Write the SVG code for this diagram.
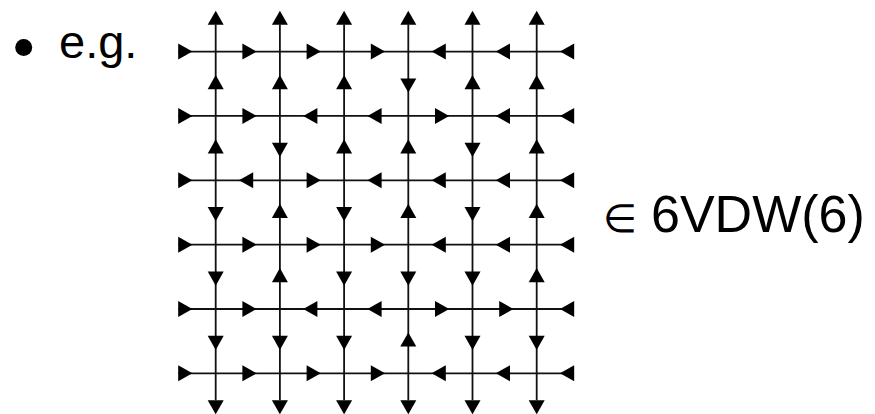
<svg xmlns="http://www.w3.org/2000/svg" xmlns:xlink="http://www.w3.org/1999/xlink" width="875" height="414" viewBox="0 0 875 414">
<style>
.ln{stroke:#111;stroke-width:1.8;fill:none}
.tx{font-family:"Liberation Sans",Arial,sans-serif;fill:#000}
.ar{fill:#000}
</style>
<defs>
<polygon id="ar" class="ar" points="8.8,0 -5.4,-8 -5.4,8"/>
</defs>
<rect width="875" height="414" fill="#fff"/>
<g id="label-eg">
<circle cx="23.7" cy="47.5" r="8.5" fill="#000"/>
<text class="tx" x="59" y="57.5" font-size="47">e.g.</text>
</g>
<g id="label-in">
<text class="tx" x="603" y="232" font-size="39" font-family="DejaVu Sans, sans-serif">∈</text>
<text class="tx" x="651" y="231.5" font-size="52">6VDW(6)</text>
</g>
<g id="connectors">
<g id="grid-h">
<line class="ln" x1="178.4" y1="51.6" x2="574" y2="51.6"/>
<line class="ln" x1="178.4" y1="115.95" x2="574" y2="115.95"/>
<line class="ln" x1="178.4" y1="180.3" x2="574" y2="180.3"/>
<line class="ln" x1="178.4" y1="244.65" x2="574" y2="244.65"/>
<line class="ln" x1="178.4" y1="309" x2="574" y2="309"/>
<line class="ln" x1="178.4" y1="373.35" x2="574" y2="373.35"/>
</g>
<g id="grid-v">
<line class="ln" x1="215.7" y1="24.6" x2="215.7" y2="400.3"/>
<line class="ln" x1="279.9" y1="24.6" x2="279.9" y2="400.3"/>
<line class="ln" x1="344.1" y1="24.6" x2="344.1" y2="400.3"/>
<line class="ln" x1="408.3" y1="24.6" x2="408.3" y2="400.3"/>
<line class="ln" x1="472.5" y1="24.6" x2="472.5" y2="400.3"/>
<line class="ln" x1="536.7" y1="24.6" x2="536.7" y2="400.3"/>
</g>
<g id="arrows-h">
<use href="#ar" transform="translate(183.6,51.6)"/>
<use href="#ar" transform="translate(247.8,51.6)"/>
<use href="#ar" transform="translate(312,51.6)"/>
<use href="#ar" transform="translate(376.2,51.6)"/>
<use href="#ar" transform="translate(440.4,51.6) rotate(180)"/>
<use href="#ar" transform="translate(504.6,51.6) rotate(180)"/>
<use href="#ar" transform="translate(568.8,51.6) rotate(180)"/>
<use href="#ar" transform="translate(183.6,115.95)"/>
<use href="#ar" transform="translate(247.8,115.95)"/>
<use href="#ar" transform="translate(312,115.95) rotate(180)"/>
<use href="#ar" transform="translate(376.2,115.95) rotate(180)"/>
<use href="#ar" transform="translate(440.4,115.95)"/>
<use href="#ar" transform="translate(504.6,115.95) rotate(180)"/>
<use href="#ar" transform="translate(568.8,115.95) rotate(180)"/>
<use href="#ar" transform="translate(183.6,180.3)"/>
<use href="#ar" transform="translate(247.8,180.3) rotate(180)"/>
<use href="#ar" transform="translate(312,180.3)"/>
<use href="#ar" transform="translate(376.2,180.3) rotate(180)"/>
<use href="#ar" transform="translate(440.4,180.3) rotate(180)"/>
<use href="#ar" transform="translate(504.6,180.3) rotate(180)"/>
<use href="#ar" transform="translate(568.8,180.3) rotate(180)"/>
<use href="#ar" transform="translate(183.6,244.65)"/>
<use href="#ar" transform="translate(247.8,244.65)"/>
<use href="#ar" transform="translate(312,244.65)"/>
<use href="#ar" transform="translate(376.2,244.65)"/>
<use href="#ar" transform="translate(440.4,244.65) rotate(180)"/>
<use href="#ar" transform="translate(504.6,244.65) rotate(180)"/>
<use href="#ar" transform="translate(568.8,244.65) rotate(180)"/>
<use href="#ar" transform="translate(183.6,309)"/>
<use href="#ar" transform="translate(247.8,309)"/>
<use href="#ar" transform="translate(312,309) rotate(180)"/>
<use href="#ar" transform="translate(376.2,309) rotate(180)"/>
<use href="#ar" transform="translate(440.4,309)"/>
<use href="#ar" transform="translate(504.6,309)"/>
<use href="#ar" transform="translate(568.8,309) rotate(180)"/>
<use href="#ar" transform="translate(183.6,373.35)"/>
<use href="#ar" transform="translate(247.8,373.35)"/>
<use href="#ar" transform="translate(312,373.35)"/>
<use href="#ar" transform="translate(376.2,373.35)"/>
<use href="#ar" transform="translate(440.4,373.35) rotate(180)"/>
<use href="#ar" transform="translate(504.6,373.35) rotate(180)"/>
<use href="#ar" transform="translate(568.8,373.35) rotate(180)"/>
</g>
<g id="arrows-v">
<use href="#ar" transform="translate(215.7,19.43) rotate(-90)"/>
<use href="#ar" transform="translate(215.7,83.78) rotate(-90)"/>
<use href="#ar" transform="translate(215.7,148.13) rotate(-90)"/>
<use href="#ar" transform="translate(215.7,212.48) rotate(90)"/>
<use href="#ar" transform="translate(215.7,276.83) rotate(90)"/>
<use href="#ar" transform="translate(215.7,341.18) rotate(90)"/>
<use href="#ar" transform="translate(215.7,405.53) rotate(90)"/>
<use href="#ar" transform="translate(279.9,19.43) rotate(-90)"/>
<use href="#ar" transform="translate(279.9,83.78) rotate(-90)"/>
<use href="#ar" transform="translate(279.9,148.13) rotate(90)"/>
<use href="#ar" transform="translate(279.9,212.48) rotate(-90)"/>
<use href="#ar" transform="translate(279.9,276.83) rotate(-90)"/>
<use href="#ar" transform="translate(279.9,341.18) rotate(90)"/>
<use href="#ar" transform="translate(279.9,405.53) rotate(90)"/>
<use href="#ar" transform="translate(344.1,19.43) rotate(-90)"/>
<use href="#ar" transform="translate(344.1,83.78) rotate(-90)"/>
<use href="#ar" transform="translate(344.1,148.13) rotate(-90)"/>
<use href="#ar" transform="translate(344.1,212.48) rotate(90)"/>
<use href="#ar" transform="translate(344.1,276.83) rotate(90)"/>
<use href="#ar" transform="translate(344.1,341.18) rotate(90)"/>
<use href="#ar" transform="translate(344.1,405.53) rotate(90)"/>
<use href="#ar" transform="translate(408.3,19.43) rotate(-90)"/>
<use href="#ar" transform="translate(408.3,83.78) rotate(90)"/>
<use href="#ar" transform="translate(408.3,148.13) rotate(-90)"/>
<use href="#ar" transform="translate(408.3,212.48) rotate(-90)"/>
<use href="#ar" transform="translate(408.3,276.83) rotate(90)"/>
<use href="#ar" transform="translate(408.3,341.18) rotate(-90)"/>
<use href="#ar" transform="translate(408.3,405.53) rotate(90)"/>
<use href="#ar" transform="translate(472.5,19.43) rotate(-90)"/>
<use href="#ar" transform="translate(472.5,83.78) rotate(-90)"/>
<use href="#ar" transform="translate(472.5,148.13) rotate(90)"/>
<use href="#ar" transform="translate(472.5,212.48) rotate(90)"/>
<use href="#ar" transform="translate(472.5,276.83) rotate(90)"/>
<use href="#ar" transform="translate(472.5,341.18) rotate(90)"/>
<use href="#ar" transform="translate(472.5,405.53) rotate(90)"/>
<use href="#ar" transform="translate(536.7,19.43) rotate(-90)"/>
<use href="#ar" transform="translate(536.7,83.78) rotate(-90)"/>
<use href="#ar" transform="translate(536.7,148.13) rotate(-90)"/>
<use href="#ar" transform="translate(536.7,212.48) rotate(-90)"/>
<use href="#ar" transform="translate(536.7,276.83) rotate(-90)"/>
<use href="#ar" transform="translate(536.7,341.18) rotate(90)"/>
<use href="#ar" transform="translate(536.7,405.53) rotate(90)"/>
</g>
</g>
</svg>
